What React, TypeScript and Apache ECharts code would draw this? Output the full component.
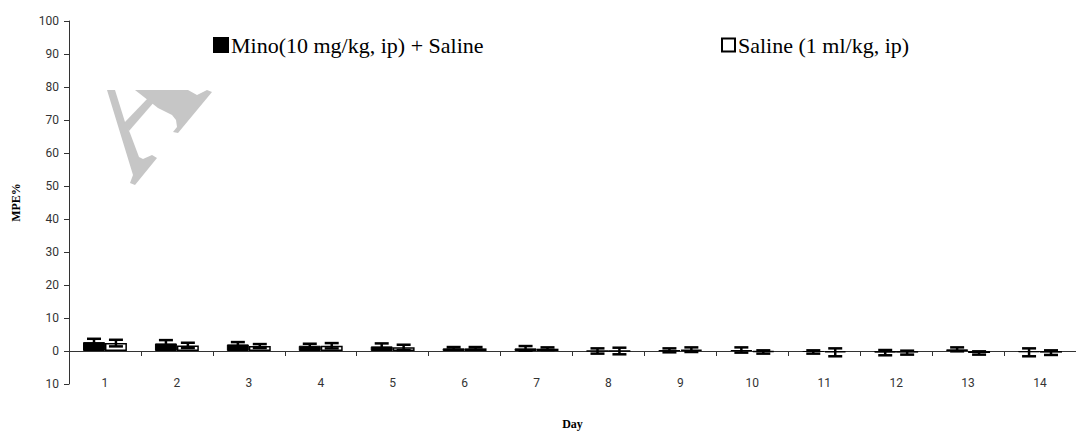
import React, { useEffect, useRef } from "react";
import * as echarts from "echarts";

const days = ["1", "2", "3", "4", "5", "6", "7", "8", "9", "10", "11", "12", "13", "14"];
const minoMean = [2.7, 2.3, 2.0, 1.6, 1.4, 0.8, 0.8, 0.0, 0.2, 0.3, -0.3, -0.5, 0.5, -0.4];
const minoErr = [1.0, 1.0, 0.7, 0.6, 0.9, 0.4, 0.7, 0.8, 0.6, 0.8, 0.5, 0.8, 0.6, 1.2];
const salineMean = [2.4, 1.7, 1.5, 1.6, 1.1, 0.8, 0.7, 0.0, 0.4, -0.3, -0.4, -0.5, -0.6, -0.5];
const salineErr = [1.0, 0.8, 0.6, 0.8, 0.8, 0.4, 0.4, 1.0, 0.7, 0.5, 1.2, 0.6, 0.5, 0.7];
const seriesNames = ["Mino(10 mg/kg, ip) + Saline", "Saline (1 ml/kg, ip)"];

const BAR_FRACTION = 0.61;
const tickFont = "'Liberation Sans Narrow', Roboto, 'Liberation Sans', sans-serif";
const serif = "'Liberation Serif', 'DejaVu Serif', serif";

function errorSeries(means: number[], errs: number[], side: number) {
  return {
    type: "custom",
    silent: true,
    z: 10,
    data: means.map((m, i) => [i, m, errs[i]]),
    encode: { x: 0, y: 1 },
    renderItem: (params: any, api: any) => {
      const i = api.value(0);
      const m = api.value(1);
      const e = api.value(2);
      const band = api.size([1, 0])[0];
      const barW = (band * BAR_FRACTION) / 2;
      const off = (side * barW) / 2;
      const hi = api.coord([i, m + e]);
      const lo = api.coord([i, m - e]);
      const x = hi[0] + off;
      const cap = 7;
      const style = { stroke: "#000", lineWidth: 2.5, fill: null };
      return {
        type: "group",
        children: [
          { type: "line", shape: { x1: x, y1: hi[1], x2: x, y2: lo[1] }, style },
          { type: "line", shape: { x1: x - cap, y1: hi[1], x2: x + cap, y2: hi[1] }, style },
          { type: "line", shape: { x1: x - cap, y1: lo[1], x2: x + cap, y2: lo[1] }, style },
        ],
      };
    },
  };
}

export default function App() {
  const ref = useRef<HTMLDivElement>(null);
  useEffect(() => {
    if (!ref.current) return;
    const chart = echarts.init(ref.current, null, { renderer: "svg" });
    const wm = "#c6c6c6";
    const legendText = { fontFamily: serif, fontSize: 22, color: "#000", padding: [0, 0, 0, -2] };
    chart.setOption({
      animation: false,
      backgroundColor: "#fff",
      grid: { left: 69, right: 0, top: 21, bottom: 48, containLabel: false, outerBoundsMode: "none" },
      legend: [
        {
          data: [{ name: seriesNames[0], icon: "rect" }],
          left: 208, top: 29, itemWidth: 14, itemHeight: 14, itemGap: 4,
          textStyle: legendText,
        },
        {
          data: [{ name: seriesNames[1], icon: "rect" }],
          left: 716, top: 29, itemWidth: 13, itemHeight: 13, itemGap: 4,
          textStyle: legendText,
        },
      ],
      graphic: [
        { type: "polygon", silent: true, z: -1, shape: { points: [[107, 90], [115, 90], [125, 122], [130, 133], [139, 157], [143, 159], [152, 155], [157, 158], [135, 185], [130, 183], [133, 175]] }, style: { fill: wm } },
        { type: "polygon", silent: true, z: -1, shape: { points: [[124, 123], [149, 97], [155, 101], [129, 131]] }, style: { fill: wm } },
        { type: "polygon", silent: true, z: -1, shape: { points: [[135, 90], [188, 90], [197, 95], [207, 90], [212, 92], [178, 133], [173, 132], [177, 127], [176, 120], [172, 115], [158, 108]] }, style: { fill: wm } },
      ],
      xAxis: {
        type: "category",
        data: days,
        name: "Day",
        nameLocation: "middle",
        nameGap: 34,
        nameTextStyle: { fontFamily: serif, fontWeight: "bold", fontSize: 12, color: "#000" },
        axisLine: { onZero: true, lineStyle: { color: "#333", width: 1 } },
        axisTick: { show: true, alignWithLabel: false, length: 5, lineStyle: { color: "#333" } },
        axisLabel: { margin: -7, fontFamily: tickFont, fontSize: 12, color: "#333" },
        splitLine: { show: false },
      },
      yAxis: {
        type: "value",
        min: -10,
        max: 100,
        interval: 10,
        name: "MPE%",
        nameLocation: "middle",
        nameGap: 47,
        nameRotate: 90,
        nameTextStyle: { fontFamily: serif, fontWeight: "bold", fontSize: 12, color: "#000" },
        axisLine: { show: true, onZero: false, lineStyle: { color: "#333", width: 1 } },
        axisTick: { show: true, length: 5, lineStyle: { color: "#333" } },
        axisLabel: {
          margin: 10,
          fontFamily: tickFont,
          fontSize: 12,
          color: "#333",
          formatter: (v: number) => String(Math.abs(v)),
        },
        splitLine: { show: false },
      },
      series: [
        {
          name: seriesNames[0],
          type: "bar",
          data: minoMean,
          barGap: "0%",
          barCategoryGap: "39%",
          itemStyle: { color: "#000", borderColor: "#000", borderWidth: 1 },
        },
        {
          name: seriesNames[1],
          type: "bar",
          data: salineMean,
          barGap: "0%",
          barCategoryGap: "39%",
          itemStyle: { color: "#fff", borderColor: "#000", borderWidth: 1.5 },
        },
        errorSeries(minoMean, minoErr, -1),
        errorSeries(salineMean, salineErr, 1),
      ],
    });
    return () => chart.dispose();
  }, []);
  return <div ref={ref} style={{ position: "fixed", left: 0, top: 0, width: 1076, height: 432 }} />;
}
